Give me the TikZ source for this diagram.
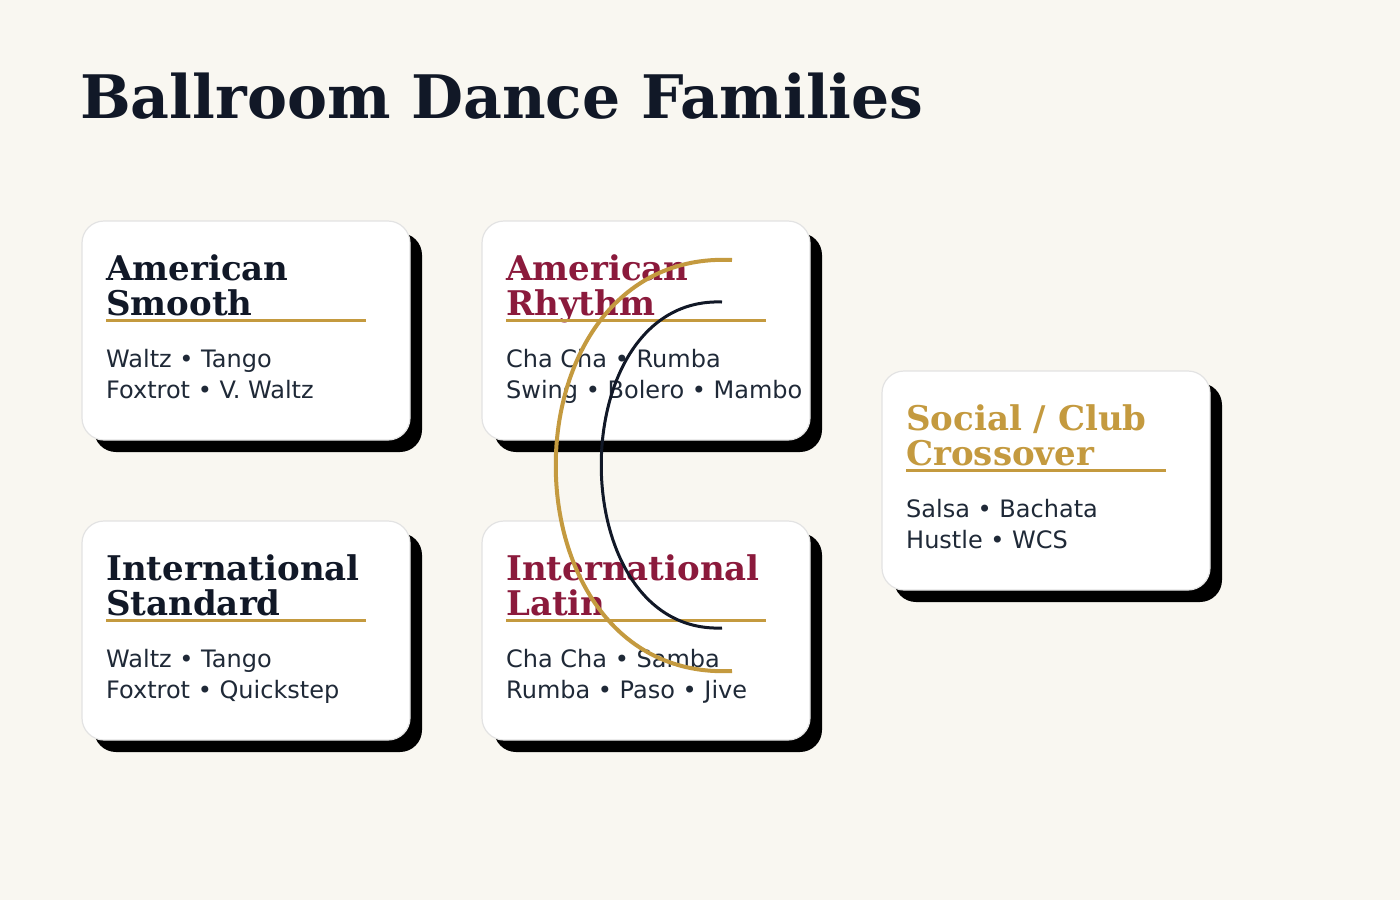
\documentclass[tikz,border=0pt]{standalone}
\usepackage{fontspec}
\newfontfamily\titlefont{DejaVu Serif}
\newfontfamily\bodyfont{DejaVu Sans}
\definecolor{bg}{HTML}{F9F7F1}
\definecolor{navy}{HTML}{111827}
\definecolor{crimson}{HTML}{8B1A3C}
\definecolor{gold}{HTML}{C49A3F}
\definecolor{bodytext}{HTML}{1F2937}
\definecolor{cardborder}{HTML}{E3E3E3}
\tikzset{
  cardbox/.style={draw=cardborder, line width=1.2pt, fill=white, rounded corners=22pt},
  shadowbox/.style={fill=black, rounded corners=22pt},
  ctitle/.style={anchor=base west, inner sep=0pt, font=\titlefont\bfseries\fontsize{34}{37}\selectfont},
  cbody/.style={anchor=base west, inner sep=0pt, font=\bodyfont\fontsize{24}{31}\selectfont, text=bodytext},
  uline/.style={draw=gold, line width=3pt},
}
\newcommand\dancecard[8]{%
  \fill[shadowbox] (#1+12,#2+12) rectangle (#1+340,#2+231);
  \draw[cardbox] (#1,#2) rectangle (#1+328,#2+219);
  \node[ctitle, text=#4] (#3-t1) at (#1+24,#2+59) {#5};
  \node[ctitle, text=#4] (#3-t2) at (#1+24,#2+94.5) {#6};
  \coordinate (#3-ua) at (#1+24,#2+99.5);
  \coordinate (#3-ub) at (#1+284,#2+99.5);
  \draw[uline] (#3-ua) -- (#3-ub);
  \node[cbody] (#3-b1) at (#1+24,#2+146) {#7};
  \node[cbody] (#3-b2) at (#1+24,#2+177) {#8};
}
\begin{document}
\begin{tikzpicture}[x=1pt,y=-1pt]
\fill[bg] (0,0) rectangle (1400,900);
\useasboundingbox (0,0) rectangle (1400,900);
\node[anchor=base west, inner sep=0pt, text=navy, font=\titlefont\bfseries\fontsize{60}{66}\selectfont] (title) at (80,118) {Ballroom Dance Families};
\dancecard{82}{221}{as}{navy}{American}{Smooth}{Waltz • Tango}{Foxtrot • V. Waltz}
\dancecard{482}{221}{ar}{crimson}{American}{Rhythm}{Cha Cha • Rumba}{Swing • Bolero • Mambo}
\dancecard{82}{521}{is}{navy}{International}{Standard}{Waltz • Tango}{Foxtrot • Quickstep}
\dancecard{482}{521}{il}{crimson}{International}{Latin}{Cha Cha • Samba}{Rumba • Paso • Jive}
\dancecard{882}{371}{sc}{gold}{Social / Club}{Crossover}{Salsa • Bachata}{Hustle • WCS}
\coordinate (g1) at (732,260);
\coordinate (g2) at (732,671);
\coordinate (n1) at (722,302);
\coordinate (n2) at (722,628);
\draw[gold, line width=4pt] (g1) .. controls (497,249) and (497,682) .. (g2);
\draw[navy, line width=3pt] (n1) .. controls (561,296) and (561,634) .. (n2);
\end{tikzpicture}
\end{document}
